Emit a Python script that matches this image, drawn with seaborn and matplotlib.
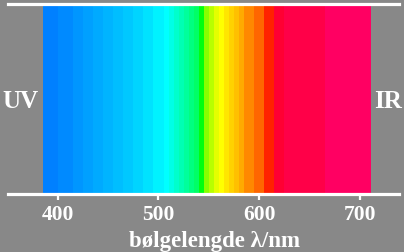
import numpy as np
import matplotlib
matplotlib.use("Agg")
import matplotlib.pyplot as plt
import seaborn as sns

# band edges of the visible spectrum (nm) and the colour of each band
band_edges = [385, 400, 415, 425, 435, 445, 455, 465, 475, 485, 495, 505,
              510, 515, 520, 525, 530, 535, 540, 545, 550, 555, 560, 565,
              570, 575, 580, 585, 595, 605, 615, 625, 665, 711]
band_colors = ['#0080ff', '#008aff', '#0096ff', '#00a0ff', '#00aaff', '#00b4ff',
               '#00beff', '#00c8ff', '#00d4ff', '#00e2ff', '#00f2ff',
               '#00ffff', '#00ffe6', '#00ffcc', '#00ffb4', '#00ff9c', '#00ff80',
               '#00ff66', '#00ff10', '#88ff00', '#b8ff00', '#e4ff00', '#ffff00',
               '#ffe600', '#ffd200', '#ffc000', '#ffaa00', '#ff8800', '#ff6600',
               '#ff2200', '#ff0033', '#ff0048', '#ff0062']
tick_values = [400, 500, 600, 700]
x_label = 'bølgelengde λ/nm'

sns.set_theme(style='white')
plt.rcParams['font.family'] = ['Liberation Serif', 'DejaVu Serif']
plt.rcParams['font.weight'] = 'bold'

grey = '#888888'
fig = plt.figure(figsize=(4.04, 2.53), dpi=100, facecolor=grey)
ax = fig.add_axes([8 / 404, 1 - 195 / 253, 391 / 404, 190.5 / 253])
ax.set_facecolor(grey)

left = np.array(band_edges[:-1])
widths = np.diff(band_edges)
ax.bar(left, 1.0, width=widths, align='edge', color=band_colors,
       linewidth=0, edgecolor='none')

ax.set_xlim(350.7, 738.6)
ax.set_ylim(0, 1)
ax.set_yticks([])
ax.set_xticks(tick_values)
ax.set_xticklabels([str(t) for t in tick_values])
ax.tick_params(axis='x', direction='inout', length=8, width=1.6,
               color='white', labelcolor='white', labelsize=15.5, pad=3,
               bottom=True)
for lab in ax.get_xticklabels():
    lab.set_fontweight('bold')

for side in ['left', 'right']:
    ax.spines[side].set_visible(False)
for side in ['top', 'bottom']:
    ax.spines[side].set_color('white')
    ax.spines[side].set_linewidth(2.3)

ax.set_xlabel(x_label, color='white', fontsize=16.5, fontweight='bold')
ax.xaxis.label.set_va('center')
ax.xaxis.set_label_coords(0.527, -0.245)

fig.text(20.5 / 404, 1 - 101 / 253, 'UV', color='white', fontsize=18,
         fontweight='bold', ha='center', va='center')
fig.text(388 / 404, 1 - 101 / 253, 'IR', color='white', fontsize=18,
         fontweight='bold', ha='center', va='center')

fig.savefig('out.png', dpi=100, facecolor=grey)
